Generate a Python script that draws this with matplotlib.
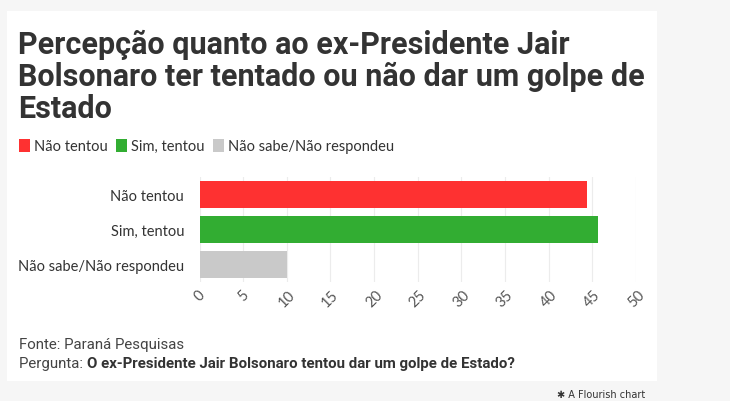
import matplotlib.pyplot as plt
from matplotlib.patches import Rectangle, Patch

categories = ['Não tentou', 'Sim, tentou', 'Não sabe/Não respondeu']
values = [44.4, 45.6, 10.0]
colors = ['#fe3131', '#32ad32', '#c9c9c9']
xticks = [0, 5, 10, 15, 20, 25, 30, 35, 40, 45, 50]

W, H = 730, 402
fig = plt.figure(figsize=(W / 100, H / 100), dpi=100)
fig.patch.set_facecolor('#f6f6f6')

# white card
fig.patches.append(Rectangle((7 / W, 1 - 382 / H), 650 / W, 370 / H,
                             transform=fig.transFigure, facecolor='white',
                             edgecolor='none', zorder=-5))

ax = fig.add_axes([199.5 / W, 1 - 283 / H, 436.5 / W, 105.5 / H])
ax.set_zorder(2)
ax.set_facecolor('none')
ax.barh(range(len(values)), values, height=0.77, color=colors, zorder=2)
ax.set_xlim(0, 50)
ax.set_ylim(2.5, -0.5)
ax.set_yticks(range(len(categories)))
ax.set_yticklabels(categories, fontsize=10.5, color='#333333', family='Lato')
ax.set_xticks(xticks)
ax.set_xticklabels([str(t) for t in xticks], rotation=45, ha='center', va='top',
                   fontsize=10.5, color='#555555', family='Lato')
ax.tick_params(axis='y', length=0, pad=11)
ax.tick_params(axis='x', length=0, pad=4)
ax.grid(axis='x', color='#ececec', linewidth=0.8, zorder=0)
for s in ax.spines.values():
    s.set_visible(False)

fig.text(18 / W, 1 - 30 / H,
         'Percepção quanto ao ex-Presidente Jair\nBolsonaro ter tentado ou não dar um golpe de\nEstado',
         fontsize=22, fontweight='bold', color='#333333', family='Roboto',
         va='top', ha='left', linespacing=1.08)

handles = [Patch(facecolor=c, edgecolor='none') for c in colors]
fig.legend(handles, categories, loc='center left', bbox_to_anchor=(6 / W, 1 - 147 / H),
           ncol=3, frameon=False, handlelength=0.75, handleheight=1.0, handletextpad=0.25,
           columnspacing=0.6, prop={'family': 'Lato', 'size': 10.5}, labelcolor='#333333')

fig.text(19 / W, 1 - 345 / H, 'Fonte: Paraná Pesquisas', fontsize=10.8,
         color='#444444', family='Roboto', va='center')
t = fig.text(19 / W, 1 - 364 / H, 'Pergunta: ', fontsize=10.8,
             color='#444444', family='Roboto', va='center')
fig.canvas.draw()
bb = t.get_window_extent()
fig.text(bb.x1 / W, 1 - 364 / H, 'O ex-Presidente Jair Bolsonaro tentou dar um golpe de Estado?',
         fontsize=10.8, fontweight='bold', color='#333333', family='Roboto', va='center')

fig.text(557 / W, 1 - 395 / H, '✱ A Flourish chart', fontsize=7, color='#333333',
         family='DejaVu Sans', va='center')

fig.savefig('out.png', dpi=100, facecolor=fig.get_facecolor())
